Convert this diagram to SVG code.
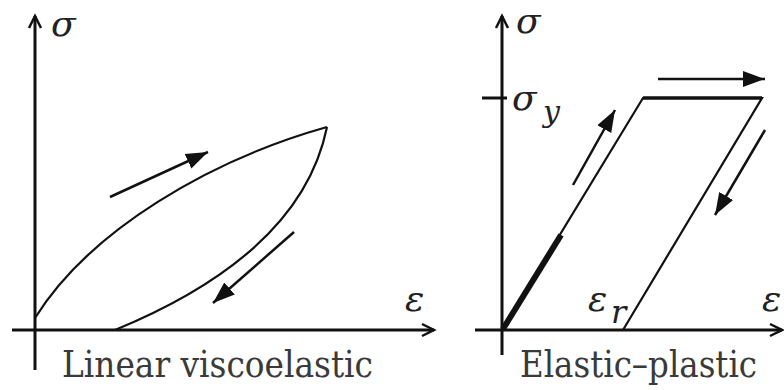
<svg xmlns="http://www.w3.org/2000/svg" width="784" height="390" viewBox="0 0 784 390">
<style>
.axis{stroke:#111;stroke-width:3;fill:none}
.curve{stroke:#111;stroke-width:2.2;fill:none}
.dir{stroke:#111;stroke-width:2.5;fill:none}
.sym{font-family:"DejaVu Serif",serif;font-style:italic;fill:#222}
.cap{font-family:"DejaVu Serif",serif;fill:#3a3a3a}
</style>
<defs>
<marker id="ax" markerUnits="userSpaceOnUse" markerWidth="20" markerHeight="20" refX="14" refY="8" orient="auto">
<path d="M2,2 L14,8 L2,14" fill="none" stroke="#111" stroke-width="2.5"/>
</marker>
<marker id="hd" markerUnits="userSpaceOnUse" markerWidth="26" markerHeight="20" refX="22" refY="9" orient="auto">
<path d="M0,1 L22,9 L0,17 Z" fill="#111"/>
</marker>
</defs>
<g id="connectors">
<line class="axis" x1="35" y1="370" x2="35" y2="16" marker-end="url(#ax)"/>
<line class="axis" x1="12" y1="330" x2="434" y2="330" marker-end="url(#ax)"/>
<line class="axis" x1="502" y1="355" x2="502" y2="16" marker-end="url(#ax)"/>
<line class="axis" x1="475" y1="330" x2="782" y2="330" marker-end="url(#ax)"/>
<line class="axis" x1="482" y1="98" x2="507" y2="98"/>
</g>
<g id="viscoelastic-loop">
<path class="curve" d="M35,318 C90,230 210,160 327,127"/>
<path class="curve" d="M115,330 C200,295 305,235 327,127"/>
</g>
<g id="viscoelastic-arrows">
<line class="dir" x1="110" y1="197" x2="208" y2="152" marker-end="url(#hd)"/>
<line class="dir" x1="294" y1="232" x2="213" y2="303" marker-end="url(#hd)"/>
</g>
<g id="elastic-plastic-path">
<polyline class="curve" points="502,330 643,98 762,98 623,330"/>
<line x1="643" y1="98" x2="762" y2="98" stroke="#111" stroke-width="3.5"/>
<line x1="503" y1="329" x2="561" y2="235" stroke="#111" stroke-width="6"/>
</g>
<g id="elastic-plastic-arrows">
<line class="dir" x1="658" y1="79" x2="765" y2="79" marker-end="url(#hd)"/>
<line class="dir" x1="573" y1="185" x2="615" y2="110" marker-end="url(#hd)"/>
<line class="dir" x1="765" y1="130" x2="715" y2="215" marker-end="url(#hd)"/>
</g>
<g id="labels">
<text class="sym" x="51" y="36" font-size="36">σ</text>
<text class="sym" x="405" y="311" font-size="36">ε</text>
<text class="sym" x="516" y="33" font-size="36">σ</text>
<text class="sym" x="512" y="110" font-size="36">σ</text>
<text class="sym" x="543" y="122" font-size="30">y</text>
<text class="sym" x="588" y="311" font-size="36">ε</text>
<text class="sym" x="611" y="323" font-size="32">r</text>
<text class="sym" x="762" y="311" font-size="36">ε</text>
<text class="cap" x="62" y="377" font-size="38" textLength="311" lengthAdjust="spacingAndGlyphs">Linear viscoelastic</text>
<text class="cap" x="520" y="377" font-size="38" textLength="237" lengthAdjust="spacingAndGlyphs">Elastic–plastic</text>
</g>
</svg>
